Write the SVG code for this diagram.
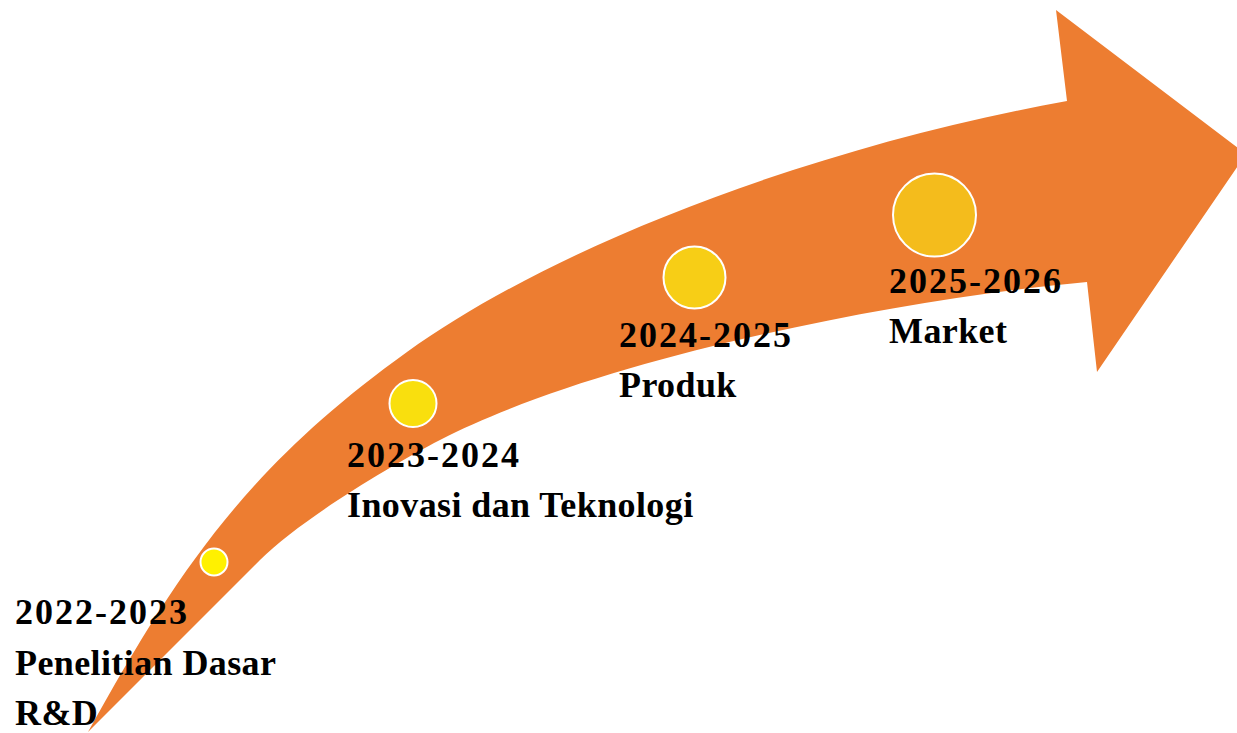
<svg xmlns="http://www.w3.org/2000/svg" width="1237" height="733" viewBox="0 0 1237 733">
  <style>
    .lbl { font-family: "Liberation Serif", "Times New Roman", serif; font-weight: bold; font-size: 36px; fill: #000000; }
    .yr { letter-spacing: 2px; }
    .wd { letter-spacing: 0.4px; }
    .dot { stroke: #FFFFFF; stroke-width: 2; }
  </style>
  <rect x="0" y="0" width="1237" height="733" fill="#FFFFFF"/>
  <g id="arrow">
    <path fill="#ED7D31" d="M88,732 C178,570 247,467 407,352 C557,244 817,146 1067,101 L1056,10 L1246,154 L1097,372 L1087,282 C887,300 590,362 440,440 C390,466 300,520 260,560 L88,732 Z"/>
  </g>
  <g id="node-2022">
    <circle class="dot" cx="214" cy="562" r="13.5" fill="#FFF100"/>
    <text class="lbl yr" x="15" y="624">2022-2023</text>
    <text class="lbl wd" x="15" y="675">Penelitian Dasar</text>
    <text class="lbl wd" x="15" y="725">R&amp;D</text>
  </g>
  <g id="node-2023">
    <circle class="dot" cx="413" cy="403.5" r="23.5" fill="#F9DF0E"/>
    <text class="lbl yr" x="347" y="467">2023-2024</text>
    <text class="lbl wd" x="347" y="517">Inovasi dan Teknologi</text>
  </g>
  <g id="node-2024">
    <circle class="dot" cx="694.5" cy="277.5" r="31" fill="#F7CE16"/>
    <text class="lbl yr" x="619" y="347">2024-2025</text>
    <text class="lbl wd" x="619" y="397">Produk</text>
  </g>
  <g id="node-2025">
    <circle class="dot" cx="934.5" cy="215" r="41.5" fill="#F4BC1C"/>
    <text class="lbl yr" x="889" y="293">2025-2026</text>
    <text class="lbl wd" x="889" y="343">Market</text>
  </g>
</svg>
